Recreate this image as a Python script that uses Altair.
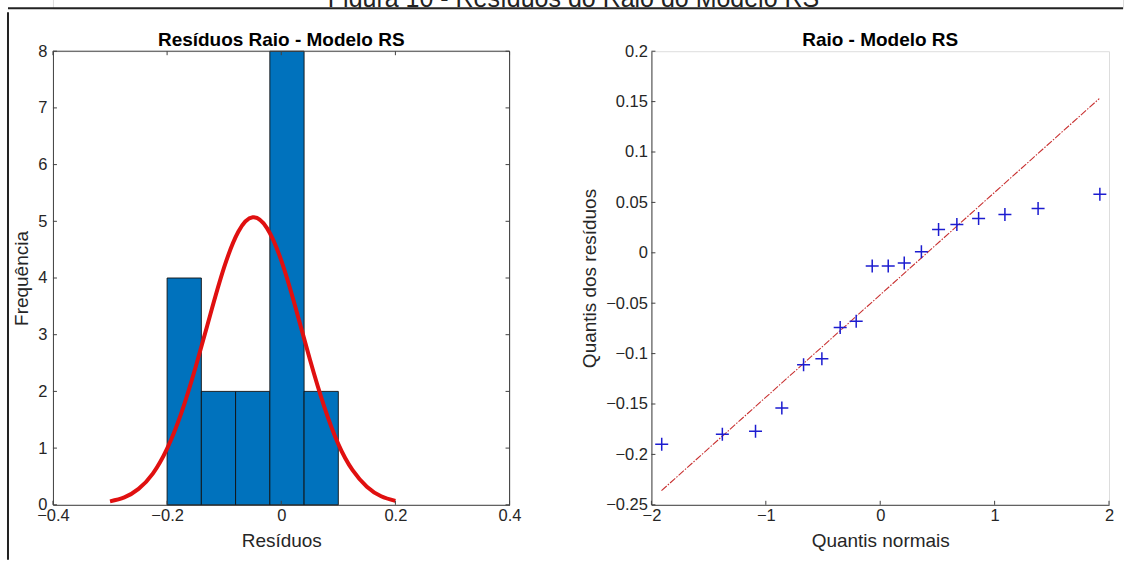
import altair as alt
import pandas as pd

# ---------------- data ----------------
caption_text = ["Figura 10 - Resíduos do Raio do Modelo RS"]
left_title = ["Resíduos Raio - Modelo RS"]
right_title = ["Raio - Modelo RS"]

bin_start = [-0.20, -0.14, -0.08, -0.02, 0.04]
bin_end = [-0.14, -0.08, -0.02, 0.04, 0.10]
bin_count = [4, 2, 2, 8, 2]

curve_x = [-0.300, -0.275, -0.250, -0.225, -0.200, -0.175, -0.150, -0.125, -0.100, -0.075,
           -0.050, -0.025, 0.000, 0.025, 0.050, 0.075, 0.100, 0.125, 0.150, 0.175, 0.200]
curve_y = [0.06, 0.13, 0.28, 0.55, 0.99, 1.62, 2.43, 3.33, 4.19, 4.82,
           5.07, 4.88, 4.31, 3.48, 2.57, 1.74, 1.07, 0.61, 0.32, 0.15, 0.07]

hist_xticks = [-0.4, -0.2, 0, 0.2, 0.4]
hist_yticks = [0, 1, 2, 3, 4, 5, 6, 7, 8]

qq_x = [-1.91, -1.38, -1.09, -0.86, -0.67, -0.51, -0.35, -0.21, -0.07,
        0.07, 0.21, 0.36, 0.51, 0.67, 0.86, 1.09, 1.38, 1.92]
qq_y = [-0.190, -0.180, -0.177, -0.154, -0.111, -0.105, -0.074, -0.068, -0.013,
        -0.013, -0.010, 0.001, 0.023, 0.028, 0.034, 0.038, 0.044, 0.058]

ref_x = [-1.912, 1.915]
ref_y = [-0.236, 0.153]

qq_xticks = [-2, -1, 0, 1, 2]
qq_yticks = [-0.25, -0.2, -0.15, -0.1, -0.05, 0, 0.05, 0.1, 0.15, 0.2]

# ---------------- styling ----------------
FONT = "Liberation Sans"
W = 457
H = 454
AX = "#404040"
TXT = "#262626"

hist_df = pd.DataFrame({"start": bin_start, "end": bin_end, "count": bin_count})
curve_df = pd.DataFrame({"x": curve_x, "y": curve_y})
hxt = pd.DataFrame({"v": hist_xticks})
hyt = pd.DataFrame({"v": hist_yticks})
qq_df = pd.DataFrame({"x": qq_x, "y": qq_y})
ref_df = pd.DataFrame({"x": ref_x, "y": ref_y})
qxt = pd.DataFrame({"v": qq_xticks})
qyt = pd.DataFrame({"v": qq_yticks})
cap_df = pd.DataFrame({"t": caption_text})
lt_df = pd.DataFrame({"t": left_title})
rt_df = pd.DataFrame({"t": right_title})


def xaxis(values, title):
    return alt.Axis(values=values, format="~g", ticks=False, grid=False,
                    labelFontSize=16.5, labelColor=TXT, labelPadding=3, labelFlush=False,
                    labelOverlap=False, domainColor=AX, title=title, titleFontSize=19,
                    titleFontWeight="normal", titleColor=TXT, titlePadding=7)


def yaxis(values, title, pad):
    return alt.Axis(values=values, format="~g", ticks=False, grid=False,
                    labelFontSize=16.5, labelColor=TXT, labelPadding=pad, labelFlush=False,
                    labelOverlap=False, domainColor=AX, title=title, titleFontSize=19,
                    titleFontWeight="normal", titleColor=TXT, titlePadding=6)


# ---------------- left: histogram ----------------
hx = alt.Scale(domain=[-0.4, 0.4], nice=False, zero=False)
hy = alt.Scale(domain=[0, 8], nice=False, zero=False)

bars = alt.Chart(hist_df).mark_rect(fill="#0072BD", stroke="#111111", strokeWidth=0.9).encode(
    x=alt.X("start:Q", scale=hx, axis=xaxis(hist_xticks, "Resíduos")),
    x2="end:Q",
    y=alt.Y("count:Q", scale=hy, axis=yaxis(hist_yticks, "Frequência", 6)),
    y2=alt.datum(0),
)
curve = alt.Chart(curve_df).mark_line(color="#e01010", strokeWidth=4, interpolate="natural").encode(
    x=alt.X("x:Q", scale=hx), y=alt.Y("y:Q", scale=hy)
)
tick_b = alt.Chart(hxt).mark_rule(color=AX).encode(
    x=alt.X("v:Q", scale=hx), y=alt.value(H), y2=alt.value(H - 4))
tick_t = alt.Chart(hxt).mark_rule(color=AX).encode(
    x=alt.X("v:Q", scale=hx), y=alt.value(0), y2=alt.value(4))
tick_l = alt.Chart(hyt).mark_rule(color=AX).encode(
    y=alt.Y("v:Q", scale=hy), x=alt.value(0), x2=alt.value(4))
tick_r = alt.Chart(hyt).mark_rule(color=AX).encode(
    y=alt.Y("v:Q", scale=hy), x=alt.value(W - 4), x2=alt.value(W))
box_top = alt.Chart(lt_df).mark_rule(color=AX).encode(
    x=alt.value(0), x2=alt.value(W), y=alt.value(0))
box_right = alt.Chart(lt_df).mark_rule(color=AX).encode(
    x=alt.value(W), y=alt.value(0), y2=alt.value(H))
frame_left = alt.Chart(lt_df).mark_rule(color="#222222", strokeWidth=2).encode(
    x=alt.value(-45), y=alt.value(-39), y2=alt.value(509))
ltitle = alt.Chart(lt_df).mark_text(fontSize=19, fontWeight="bold", color="black",
                                    align="center", baseline="alphabetic").encode(
    text="t:N", x=alt.value(W / 2), y=alt.value(-5))

left = alt.layer(bars, curve, tick_b, tick_t, tick_l, tick_r, box_top, box_right,
                 frame_left, ltitle).properties(width=W, height=H)

# ---------------- right: QQ plot ----------------
qx = alt.Scale(domain=[-2, 2], nice=False, zero=False)
qy = alt.Scale(domain=[-0.25, 0.2], nice=False, zero=False)

refline = alt.Chart(ref_df).mark_line(color="#c83030", strokeWidth=1.1,
                                      strokeDash=[7, 1.5, 1.5, 1.5]).encode(
    x=alt.X("x:Q", scale=qx, axis=xaxis(qq_xticks, "Quantis normais")),
    y=alt.Y("y:Q", scale=qy, axis=yaxis(qq_yticks, "Quantis dos resíduos", 4)),
)
pts = alt.Chart(qq_df).mark_point(shape="M-1,0L1,0M0,-1L0,1", size=169, color="#1c1cd0",
                                  strokeWidth=1.5, filled=False, opacity=1).encode(
    x=alt.X("x:Q", scale=qx), y=alt.Y("y:Q", scale=qy)
)
qtick_b = alt.Chart(qxt).mark_rule(color=AX).encode(
    x=alt.X("v:Q", scale=qx), y=alt.value(H), y2=alt.value(H - 4))
qtick_l = alt.Chart(qyt).mark_rule(color=AX).encode(
    y=alt.Y("v:Q", scale=qy), x=alt.value(0), x2=alt.value(4))
rtitle = alt.Chart(rt_df).mark_text(fontSize=19, fontWeight="bold", color="black",
                                    align="center", baseline="alphabetic").encode(
    text="t:N", x=alt.value((W + 1) / 2), y=alt.value(-5))

right = alt.layer(refline, pts, qtick_b, qtick_l, rtitle).properties(width=W + 1, height=H)

# ---------------- caption (clipped) ----------------
cap_text = alt.Chart(cap_df).mark_text(fontSize=25, color="#222222", clip=True,
                                       align="center", baseline="alphabetic").encode(
    text="t:N", x=alt.value(521), y=alt.value(9))
cap_rule = alt.Chart(cap_df).mark_rule(color="#222222", strokeWidth=2).encode(
    x=alt.value(-45), x2=alt.value(1071), y=alt.value(10))
caption = alt.layer(cap_text, cap_rule).properties(width=1071, height=10)

chart = alt.vconcat(
    caption,
    alt.hconcat(left, right, spacing=58),
    spacing=0,
).properties(
    padding={"left": 6, "top": -3, "right": 0, "bottom": 0},
).configure_view(stroke=None).configure(font=FONT)

chart.save("out.html", embed_options={"renderer": "svg", "actions": False})
